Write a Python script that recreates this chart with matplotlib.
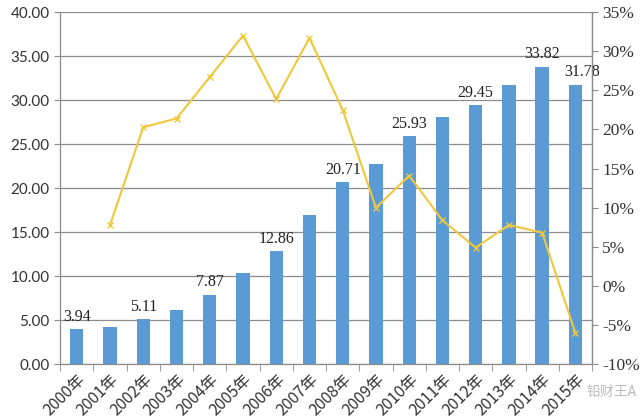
import matplotlib
matplotlib.use('Agg')
import matplotlib.pyplot as plt
import numpy as np

# data
years = ['2000年', '2001年', '2002年', '2003年', '2004年', '2005年', '2006年', '2007年',
         '2008年', '2009年', '2010年', '2011年', '2012年', '2013年', '2014年', '2015年']
values = [3.94, 4.25, 5.11, 6.2, 7.87, 10.4, 12.86, 16.95,
          20.71, 22.8, 25.93, 28.1, 29.45, 31.7, 33.82, 31.78]
growth = [np.nan, 7.8, 20.3, 21.4, 26.7, 32.0, 23.9, 31.7,
          22.5, 10.0, 14.1, 8.4, 4.9, 7.8, 6.8, -6.0]
labelled = [0, 2, 4, 6, 8, 10, 12, 14, 15]

bar_color = '#5B9BD5'
line_color = '#EEC83A'
grid_color = '#8C8C8C'

fig = plt.figure(figsize=(6.4, 4.2), dpi=100)
ax = fig.add_axes([0.094, 0.133, 0.831, 0.838])
x = np.arange(len(years))

ax.bar(x, values, width=0.4, color=bar_color, zorder=2)
ax.set_xlim(-0.5, len(years) - 0.5)
ax.set_ylim(0, 40)
ax.set_yticks(np.arange(0, 41, 5))
ax.set_yticklabels([f'{v:.2f}' for v in np.arange(0, 41, 5)],
                   fontsize=11, family='Lato', color='#333333')
ax.yaxis.grid(True, color=grid_color, linewidth=0.9, zorder=0)
ax.set_axisbelow(True)

# category boundary ticks
ax.set_xticks(x)
ax.set_xticklabels(years, rotation=45, ha='right', va='top', rotation_mode='anchor',
                   fontsize=11.5, family=['Noto Sans CJK SC', 'DejaVu Sans'], color='#333333')
ax.tick_params(axis='x', which='major', length=0, pad=5)
ax.set_xticks(np.arange(-0.5, len(years), 1), minor=True)
ax.tick_params(axis='x', which='minor', length=5, color=grid_color, direction='out')
ax.tick_params(axis='y', length=4, color=grid_color)

ax.spines['top'].set_visible(False)
for s in ['left', 'bottom', 'right']:
    ax.spines[s].set_color(grid_color)
    ax.spines[s].set_linewidth(0.9)

for i in labelled:
    dx = 0.2 if i == 15 else 0
    ax.text(x[i] + dx, values[i] + 0.5, f'{values[i]:.2f}', ha='center', va='bottom',
            fontsize=11.5, family='Liberation Serif', color='#222222')

ax2 = ax.twinx()
ax2.plot(x, growth, color=line_color, linewidth=1.5, marker='x', markersize=5,
         markeredgewidth=1.0, zorder=3)
ax2.set_ylim(-10, 35)
ax2.set_yticks(np.arange(-10, 36, 5))
ax2.set_yticklabels([f'{v}%' for v in range(-10, 36, 5)],
                    fontsize=12.5, family='Liberation Serif', color='#333333')
ax2.tick_params(axis='y', length=4, color=grid_color)
for s in ['top', 'left', 'bottom']:
    ax2.spines[s].set_visible(False)
ax2.spines['right'].set_color(grid_color)
ax2.spines['right'].set_linewidth(0.9)

# watermark
fig.text(0.955, 0.066, '铅财王A', fontsize=10, color='#BBBBBB', ha='center', va='center',
         family=['Noto Sans CJK SC', 'DejaVu Sans'])

fig.savefig('out.png', dpi=100)
